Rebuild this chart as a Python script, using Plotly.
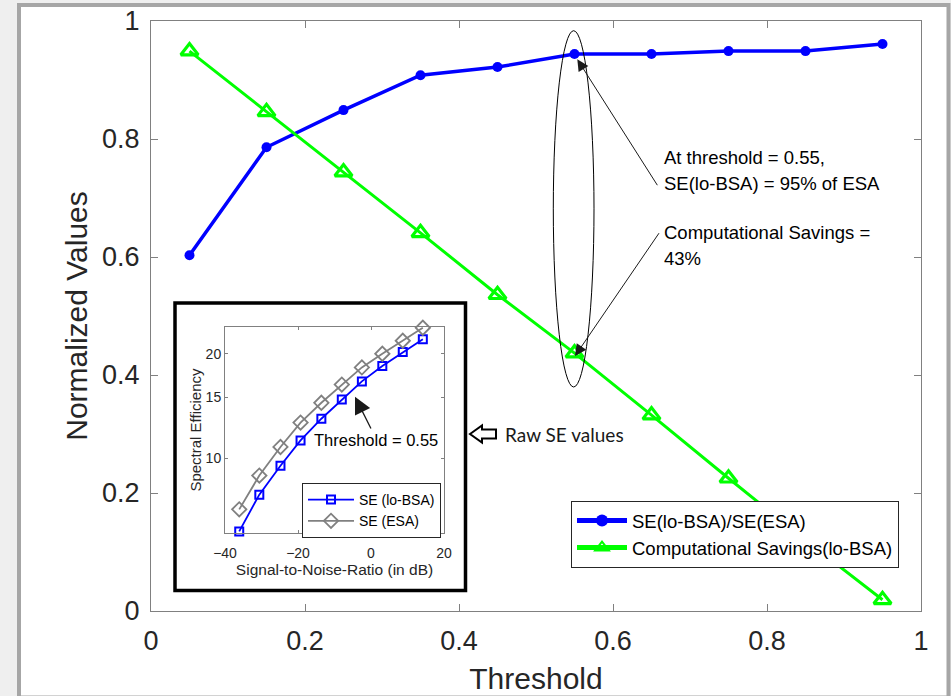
import plotly.graph_objects as go

# ---------------- data ----------------
threshold = [0.05, 0.15, 0.25, 0.35, 0.45, 0.55, 0.65, 0.75, 0.85, 0.95]
se_ratio = [0.603, 0.786, 0.849, 0.908, 0.922, 0.944, 0.944, 0.949, 0.949, 0.961]
comp_savings = [0.949, 0.846, 0.744, 0.641, 0.536, 0.437, 0.332, 0.225, 0.120, 0.019]

snr_db = [-36.1, -30.6, -24.8, -19.3, -13.6, -8.0, -2.5, 3.1, 8.7, 14.2]
se_lobsa = [6.16, 7.86, 9.52, 11.26, 13.0, 14.76, 16.65, 18.43, 20.22, 22.03]
se_esa = [7.13, 8.92, 10.78, 12.67, 14.45, 16.30, 18.27, 20.0, 21.8, 23.76]

main_ticks = [0, 0.2, 0.4, 0.6, 0.8, 1]
inset_xticks = [-40, -20, 0, 20]
inset_yticks = [10, 15, 20]

FONT = "Liberation Sans, Arial, Helvetica, sans-serif"
W, H = 951, 696
L, R, T, B = 151, 921, 21, 611  # plot area in pixels


def px(xp):
    return (xp - L) / (R - L)


def py(yp):
    return (B - yp) / (B - T)


fig = go.Figure()

fig.add_trace(go.Scatter(
    x=threshold, y=se_ratio, mode="lines+markers", name="SE(lo-BSA)/SE(ESA)",
    line=dict(color="#0000ff", width=3.5),
    marker=dict(symbol="circle", size=10, color="#0000ff"),
    xaxis="x", yaxis="y", cliponaxis=False, legend="legend"))
fig.add_trace(go.Scatter(
    x=threshold, y=comp_savings, mode="lines+markers", name="Computational Savings(lo-BSA)",
    line=dict(color="#00ff00", width=3),
    marker=dict(symbol="triangle-up-open", size=15, color="#00ff00",
                line=dict(width=3.2, color="#00ff00")),
    xaxis="x", yaxis="y", cliponaxis=False, legend="legend"))

fig.add_trace(go.Scatter(
    x=snr_db, y=se_lobsa, mode="lines+markers", name="SE (lo-BSA)",
    line=dict(color="#0000ff", width=1.8),
    marker=dict(symbol="square-open", size=8, color="#0000ff",
                line=dict(width=2, color="#0000ff")),
    xaxis="x2", yaxis="y2", cliponaxis=False, legend="legend2"))
fig.add_trace(go.Scatter(
    x=snr_db, y=se_esa, mode="lines+markers", name="SE (ESA)",
    line=dict(color="#808080", width=1.8),
    marker=dict(symbol="diamond-open", size=11, color="#808080",
                line=dict(width=1.8, color="#808080")),
    xaxis="x2", yaxis="y2", cliponaxis=False, legend="legend2"))

axis_common = dict(showline=True, linecolor="#808080", linewidth=1, mirror="ticks",
                   ticks="inside", tickcolor="#808080", showgrid=False, zeroline=False,
                   automargin=False)

fig.update_layout(
    width=W, height=H, autosize=False,
    margin=dict(l=L, r=W - R, t=T, b=H - B, pad=0, autoexpand=False),
    paper_bgcolor="#efefef", plot_bgcolor="white",
    font=dict(family=FONT, color="#262626"),
    xaxis=dict(**axis_common, range=[0, 1], tickvals=main_ticks, ticklen=7,
               domain=[0, 1], anchor="y", ticklabelstandoff=6,
               tickfont=dict(size=27, color="#262626"),
               title=dict(text="Threshold", font=dict(size=30, color="#262626"), standoff=12)),
    yaxis=dict(**axis_common, range=[0, 1], tickvals=main_ticks, ticklen=7,
               domain=[0, 1], anchor="x", ticklabelstandoff=5,
               tickfont=dict(size=27, color="#262626"),
               title=dict(text="Normalized Values", font=dict(size=30, color="#262626"), standoff=5)),
    xaxis2=dict(**axis_common, range=[-40, 20], tickvals=inset_xticks, ticklen=3,
                domain=[px(225), px(444)], anchor="y2", ticklabelstandoff=7,
                tickfont=dict(size=14, color="#262626"),
                title=dict(text="Signal-to-Noise-Ratio (in dB)", font=dict(size=15.5, color="#262626"), standoff=1)),
    yaxis2=dict(**axis_common, type="log", range=[0.785, 1.378], tickvals=inset_yticks,
                ticktext=[str(v) for v in inset_yticks], ticklen=3,
                domain=[py(533), py(327)], anchor="x2",
                tickfont=dict(size=14, color="#262626"),
                title=dict(text="Spectral Efficiency", font=dict(size=15, color="#262626"), standoff=0)),
    legend=dict(x=px(899), y=py(501), xanchor="right", yanchor="top", xref="paper", yref="paper",
                bgcolor="white", bordercolor="#262626", borderwidth=1, itemwidth=50,
                itemsizing="constant",
                font=dict(size=18.5, color="#000000", family=FONT), tracegroupgap=0),
    legend2=dict(x=px(441), y=py(483), xanchor="right", yanchor="top", xref="paper", yref="paper",
                 bgcolor="white", bordercolor="#262626", borderwidth=1, itemwidth=46,
                 font=dict(size=14, color="#000000", family=FONT), tracegroupgap=0),
)

shapes = [
    # outer frame
    dict(type="rect", xref="paper", yref="paper", x0=px(19), x1=px(948.5), y0=py(697.5), y1=py(5),
         fillcolor="white", line=dict(color="#a6a6a6", width=4), layer="below"),
    # inset box
    dict(type="rect", xref="paper", yref="paper", x0=px(175), x1=px(465.5), y0=py(590.5), y1=py(303),
         fillcolor="white", line=dict(color="black", width=3.5), layer="below"),
    # ellipse
    dict(type="circle", xref="x", yref="y", x0=px(553.3), x1=px(594), y0=py(387), y1=py(30.7),
         line=dict(color="black", width=1)),
    # hollow left arrow next to "Raw SE values"
    dict(type="path", xref="paper", yref="paper",
         path="M {} {} L {} {} L {} {} L {} {} L {} {} L {} {} L {} {} Z".format(
             px(470), py(434), px(482), py(425.5), px(482), py(429.5), px(496), py(429.5),
             px(496), py(438.5), px(482), py(438.5), px(482), py(442.5)),
         fillcolor="white", line=dict(color="black", width=2)),
]
fig.update_layout(shapes=shapes)


def arrow(hx, hy, tx, ty, size, width):
    # main axes span 0..1 over the full plot area, so x/y refs equal paper coords
    return dict(x=px(hx), y=py(hy), ax=px(tx), ay=py(ty), xref="x", yref="y",
                axref="x", ayref="y", text="", showarrow=True, arrowhead=2,
                arrowsize=size, arrowwidth=width, arrowcolor="#1a1a1a", standoff=0)


ann = [
    arrow(577.3, 59.3, 658.3, 186.7, 2.3, 1),
    arrow(575, 356, 660, 231.7, 2.3, 1),
    arrow(355, 396.7, 371.7, 430, 2.6, 1.3),
]
for txt, yy in [("At threshold = 0.55,", 157), ("SE(lo-BSA) = 95% of ESA", 183),
                ("Computational Savings =", 232), ("43%", 258)]:
    ann.append(dict(x=px(662), y=py(yy), xref="paper", yref="paper", text=txt, showarrow=False,
                    xanchor="left", yanchor="middle", font=dict(size=18.5, color="#000000", family=FONT)))
ann.append(dict(x=px(375.5), y=py(440), xref="paper", yref="paper", text="Threshold = 0.55",
                showarrow=False, xanchor="center", yanchor="middle",
                font=dict(size=16.5, color="#000000", family=FONT)))
ann.append(dict(x=px(503), y=py(434), xref="paper", yref="paper", text="Raw SE values",
                showarrow=False, xanchor="left", yanchor="middle",
                font=dict(size=19, color="#1a1a1a", family="Lato, Open Sans, sans-serif")))
fig.update_layout(annotations=ann)

fig.write_html("out.html", config={"displayModeBar": False},
               post_script="document.body.style.margin='0px';")
